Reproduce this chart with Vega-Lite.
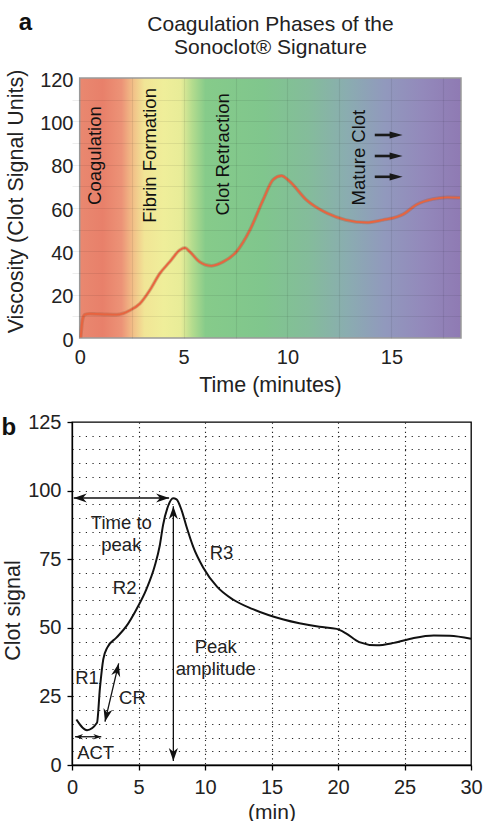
{
  "$schema": "https://vega.github.io/schema/vega-lite/v6.json",
  "background": "white",
  "padding": {"left": 0, "top": 10, "right": 5, "bottom": 1},
  "config": {
    "font": "Liberation Sans",
    "view": {"stroke": null},
    "text": {"font": "Liberation Sans"}
  },
  "bounds": "flush",
  "spacing": 84,
  "title": {"text": "a", "anchor": "start", "frame": "bounds", "fontSize": 24, "fontWeight": "bold", "color": "#111", "offset": -21, "dx": 18},
  "vconcat": [
    {
      "width": 389,
      "height": 260,
      "title": {"text": ["Coagulation Phases of the", "Sonoclot® Signature"], "fontSize": 21, "fontWeight": "normal", "lineHeight": 23.5, "anchor": "middle", "frame": "group", "offset": 11, "dx": 4, "color": "#222"},
      "view": {"stroke": null},
      "layer": [
        {
          "data": {"values": [{}]},
          "mark": {
            "type": "rect",
            "fill": {
              "gradient": "linear", "x1": 0, "y1": 0, "x2": 1, "y2": 0,
              "stops": [
                {"offset": 0, "color": "#e98870"},
                {"offset": 0.06, "color": "#e8806a"},
                {"offset": 0.11, "color": "#ec9377"},
                {"offset": 0.14, "color": "#f2c088"},
                {"offset": 0.17, "color": "#f1e596"},
                {"offset": 0.22, "color": "#efee9a"},
                {"offset": 0.265, "color": "#e8ec98"},
                {"offset": 0.295, "color": "#b4dc8e"},
                {"offset": 0.33, "color": "#86cb8a"},
                {"offset": 0.48, "color": "#80c68d"},
                {"offset": 0.6, "color": "#84bc9b"},
                {"offset": 0.7, "color": "#8aadb0"},
                {"offset": 0.8, "color": "#9199bd"},
                {"offset": 0.9, "color": "#9389bb"},
                {"offset": 1, "color": "#8f7ab3"}
              ]
            },
            "stroke": "#9a9a9a",
            "strokeWidth": 1.5
          },
          "encoding": {
            "x": {"datum": 0, "type": "quantitative",
              "scale": {"domain": [-0.37, 18.35], "nice": false, "zero": false},
              "axis": {
                "values": [0, 2.5, 5, 7.5, 10, 12.5, 15, 17.5],
                "tickCount": 100,
                "format": "d",
                "labelExpr": "datum.value % 5 === 0 ? datum.label : ''",
                "labelOverlap": false, "labelFlush": false,
                "labelFontSize": 20, "labelColor": "#222", "labelPadding": 9,
                "ticks": false, "tickSize": 0, "domain": false,
                "grid": true, "gridColor": "#000", "gridOpacity": {"condition": {"test": "datum.value === 0", "value": 0}, "value": 0.07}, "gridWidth": 1.2,
                "zindex": 1,
                "title": "Time (minutes)", "titleFontSize": 21.5, "titleFontWeight": "normal", "titleColor": "#222", "titlePadding": 7, "titleX": 198
              }
            },
            "x2": {"datum": 18.35},
            "y": {"datum": 0, "type": "quantitative",
              "scale": {"domain": [0, 120], "nice": false},
              "axis": {
                "values": [0, 10, 20, 30, 40, 50, 60, 70, 80, 90, 100, 110, 120],
                "tickCount": 100,
                "format": "d",
                "labelExpr": "datum.value % 20 === 0 ? datum.label : ''",
                "labelOverlap": false,
                "labelFontSize": 20, "labelColor": "#222", "labelPadding": -1, "labelOffset": 2,
                "ticks": false, "tickSize": 0, "domain": false,
                "grid": true, "gridColor": "#000", "gridOpacity": {"condition": {"test": "datum.value === 0 || datum.value === 120", "value": 0}, "value": 0.07}, "gridWidth": 1.2,
                "zindex": 1,
                "title": "Viscosity (Clot Signal Units)", "titleFontSize": 21.5, "titleFontWeight": "normal", "titleColor": "#222", "titlePadding": 12, "titleY": 123
              }
            },
            "y2": {"datum": 120}
          }
        },
        {
          "data": {"name": "viscosity"},
          "mark": {"type": "line", "interpolate": "monotone", "color": "#a85a38", "strokeWidth": 3.6, "opacity": 0.35},
          "encoding": {
            "x": {"field": "t", "type": "quantitative", "scale": {"domain": [-0.37, 18.35], "nice": false, "zero": false}},
            "y": {"field": "v", "type": "quantitative", "scale": {"domain": [0, 120], "nice": false}}
          }
        },
        {
          "data": {"name": "viscosity"},
          "mark": {"type": "line", "interpolate": "monotone", "color": "#e8643f", "strokeWidth": 1.9},
          "encoding": {
            "x": {"field": "t", "type": "quantitative", "scale": {"domain": [-0.37, 18.35], "nice": false, "zero": false}},
            "y": {"field": "v", "type": "quantitative", "scale": {"domain": [0, 120], "nice": false}}
          }
        },
        {
          "data": {"values": [
            {"phase": "Coagulation", "t": 0.72, "v": 61.4},
            {"phase": "Fibrin Formation", "t": 3.37, "v": 53.2},
            {"phase": "Clot Retraction", "t": 6.9, "v": 56.5},
            {"phase": "Mature Clot", "t": 13.44, "v": 61.2}
          ]},
          "mark": {"type": "text", "angle": 270, "align": "left", "baseline": "middle", "fontSize": 18.5, "color": "#111"},
          "encoding": {
            "x": {"field": "t", "type": "quantitative", "scale": {"domain": [-0.37, 18.35], "nice": false, "zero": false}},
            "y": {"field": "v", "type": "quantitative", "scale": {"domain": [0, 120], "nice": false}},
            "text": {"field": "phase"}
          }
        },
        {
          "data": {"name": "phaseArrows"},
          "mark": {"type": "rule", "color": "#1a1a1a", "strokeWidth": 2.6},
          "encoding": {
            "x": {"field": "t0", "type": "quantitative", "scale": {"domain": [-0.37, 18.35], "nice": false, "zero": false}},
            "x2": {"field": "t1"},
            "y": {"field": "v", "type": "quantitative", "scale": {"domain": [0, 120], "nice": false}}
          }
        },
        {
          "data": {"name": "phaseArrows"},
          "mark": {"type": "point", "shape": "M0,0L-2,-0.55L-2,0.55Z", "filled": true, "color": "#1a1a1a", "opacity": 1, "size": 169, "angle": 0},
          "encoding": {
            "x": {"field": "tip", "type": "quantitative", "scale": {"domain": [-0.37, 18.35], "nice": false, "zero": false}},
            "y": {"field": "v", "type": "quantitative", "scale": {"domain": [0, 120], "nice": false}}
          }
        }
      ]
    },
    {
      "width": 399,
      "height": 343,
      "view": {"stroke": "#000", "strokeWidth": 1.3},
      "layer": [
        {
          "data": {"name": "clot"},
          "mark": {"type": "line", "interpolate": "monotone", "color": "#111", "strokeWidth": 2},
          "encoding": {
            "x": {"field": "t", "type": "quantitative",
              "scale": {"domain": [0, 30], "nice": false},
              "axis": {
                "values": [0, 5, 10, 15, 20, 25, 30],
                "tickCount": 100,
                "format": "d",
                "labelOverlap": false, "labelFlush": false,
                "labelFontSize": 20, "labelColor": "#222", "labelPadding": 7,
                "tickSize": 5, "tickColor": "#000", "tickWidth": 1.3,
                "domainColor": "#000", "domainWidth": 1.3,
                "grid": true, "gridColor": "#222", "gridWidth": 1.1, "gridDash": [1.2, 3.4],
                "gridOpacity": {"condition": {"test": "datum.value === 0 || datum.value === 30", "value": 0}, "value": 1},
                "title": "(min)", "titleFontSize": 21, "titleFontWeight": "normal", "titleColor": "#222", "titlePadding": 4
              }
            },
            "y": {"field": "s", "type": "quantitative",
              "scale": {"domain": [0, 125], "nice": false},
              "axis": {
                "values": [0, 5, 10, 15, 20, 25, 30, 35, 40, 45, 50, 55, 60, 65, 70, 75, 80, 85, 90, 95, 100, 105, 110, 115, 120, 125],
                "tickCount": 100,
                "format": "d",
                "labelExpr": "datum.value % 25 === 0 ? datum.label : ''",
                "labelOverlap": false,
                "labelFontSize": 20, "labelColor": "#222", "labelPadding": 6,
                "tickSize": 5, "tickColor": "#000", "tickWidth": 1.3,
                "tickOpacity": {"condition": {"test": "datum.value % 25 === 0", "value": 1}, "value": 0},
                "domainColor": "#000", "domainWidth": 1.3,
                "grid": true, "gridColor": "#222", "gridWidth": 1.1, "gridDash": [1.2, 5.45],
                "gridOpacity": {"condition": {"test": "datum.value === 0 || datum.value === 125", "value": 0}, "value": 1},
                "title": "Clot signal", "titleFontSize": 21.5, "titleFontWeight": "normal", "titleColor": "#222", "titlePadding": 3, "titleY": 188
              }
            }
          }
        },
        {
          "data": {"name": "arrows"},
          "mark": {"type": "rule", "color": "#111", "strokeWidth": 1.3},
          "encoding": {
            "x": {"field": "x", "type": "quantitative", "scale": {"domain": [0, 30], "nice": false}},
            "y": {"field": "y", "type": "quantitative", "scale": {"domain": [0, 125], "nice": false}},
            "x2": {"field": "x2"},
            "y2": {"field": "y2"}
          }
        },
        {
          "data": {"name": "arrowheads"},
          "transform": [{"filter": "datum.arrow !== 'ACT'"}],
          "mark": {"type": "point", "shape": "M0,0L-2,-0.7L-1.4,0L-2,0.7Z", "filled": true, "color": "#111", "opacity": 1, "size": 169},
          "encoding": {
            "x": {"field": "x", "type": "quantitative", "scale": {"domain": [0, 30], "nice": false}},
            "y": {"field": "y", "type": "quantitative", "scale": {"domain": [0, 125], "nice": false}},
            "angle": {"field": "angle", "type": "quantitative", "scale": null}
          }
        },
        {
          "data": {"name": "arrowheads"},
          "transform": [{"filter": "datum.arrow === 'ACT'"}],
          "mark": {"type": "point", "shape": "M0,0L-2,-0.7L-1.4,0L-2,0.7Z", "filled": true, "color": "#111", "opacity": 1, "size": 64},
          "encoding": {
            "x": {"field": "x", "type": "quantitative", "scale": {"domain": [0, 30], "nice": false}},
            "y": {"field": "y", "type": "quantitative", "scale": {"domain": [0, 125], "nice": false}},
            "angle": {"field": "angle", "type": "quantitative", "scale": null}
          }
        },
        {
          "data": {"values": [
            {"label": "Time to", "x": 3.71, "y": 88.2},
            {"label": "peak", "x": 3.71, "y": 80.0},
            {"label": "R2", "x": 3.96, "y": 64.6},
            {"label": "R3", "x": 11.24, "y": 77.3},
            {"label": "Peak", "x": 10.81, "y": 43.0},
            {"label": "amplitude", "x": 10.81, "y": 35.1},
            {"label": "R1", "x": 1.13, "y": 31.8},
            {"label": "CR", "x": 4.54, "y": 24.5},
            {"label": "ACT", "x": 1.78, "y": 4.5}
          ]},
          "mark": {"type": "text", "align": "center", "baseline": "middle", "fontSize": 18.5, "color": "#222"},
          "encoding": {
            "x": {"field": "x", "type": "quantitative", "scale": {"domain": [0, 30], "nice": false}},
            "y": {"field": "y", "type": "quantitative", "scale": {"domain": [0, 125], "nice": false}},
            "text": {"field": "label"}
          }
        },
        {
          "data": {"values": [{"label": "b", "x": -4.75, "y": 120.4}]},
          "mark": {"type": "text", "align": "center", "baseline": "alphabetic", "fontSize": 24, "fontWeight": "bold", "color": "#111"},
          "encoding": {
            "x": {"field": "x", "type": "quantitative", "scale": {"domain": [0, 30], "nice": false}},
            "y": {"field": "y", "type": "quantitative", "scale": {"domain": [0, 125], "nice": false}},
            "text": {"field": "label"}
          }
        }
      ]
    }
  ],
  "datasets": {
    "viscosity": [
      {"t": 0.05, "v": 0.3}, {"t": 0.13, "v": 8}, {"t": 0.24, "v": 10.8}, {"t": 0.5, "v": 11.2},
      {"t": 0.8, "v": 11.1}, {"t": 1.3, "v": 10.9}, {"t": 1.77, "v": 10.8}, {"t": 2.1, "v": 11.4},
      {"t": 2.4, "v": 12.7}, {"t": 2.89, "v": 15.8}, {"t": 3.37, "v": 22}, {"t": 3.85, "v": 29.7},
      {"t": 4.33, "v": 35.1}, {"t": 4.82, "v": 40.6}, {"t": 5.07, "v": 41.6}, {"t": 5.3, "v": 39.8},
      {"t": 5.78, "v": 35.1}, {"t": 6.34, "v": 33.3}, {"t": 6.9, "v": 35.1}, {"t": 7.54, "v": 39.8},
      {"t": 8.19, "v": 49.8}, {"t": 8.83, "v": 63.8}, {"t": 9.31, "v": 73.1}, {"t": 9.71, "v": 74.9},
      {"t": 10.1, "v": 72.3}, {"t": 10.9, "v": 63.8}, {"t": 11.9, "v": 57.6}, {"t": 12.8, "v": 54.5},
      {"t": 13.8, "v": 53.3}, {"t": 14.6, "v": 54.5}, {"t": 15.3, "v": 56}, {"t": 15.6, "v": 57.3},
      {"t": 16.2, "v": 61.5}, {"t": 17, "v": 64.1}, {"t": 17.7, "v": 64.9}, {"t": 18.3, "v": 64.7}
    ],
    "phaseArrows": [
      {"v": 93.7, "t0": 14.2, "t1": 14.95, "tip": 15.54},
      {"v": 84.0, "t0": 14.2, "t1": 14.95, "tip": 15.54},
      {"v": 74.4, "t0": 14.2, "t1": 14.95, "tip": 15.54}
    ],
    "clot": [
      {"t": 0.33, "s": 16.6}, {"t": 1.13, "s": 12.7}, {"t": 1.88, "s": 15.4}, {"t": 2.1, "s": 28},
      {"t": 2.35, "s": 38.5}, {"t": 2.65, "s": 42.8}, {"t": 3.34, "s": 46.4}, {"t": 4.09, "s": 50.6},
      {"t": 4.84, "s": 56.7}, {"t": 5.59, "s": 64}, {"t": 6.22, "s": 72.5}, {"t": 6.6, "s": 80},
      {"t": 6.85, "s": 87.5}, {"t": 7.22, "s": 94.3}, {"t": 7.6, "s": 97.2}, {"t": 7.86, "s": 96.8},
      {"t": 8.23, "s": 93}, {"t": 8.6, "s": 87}, {"t": 9.1, "s": 79.7}, {"t": 9.86, "s": 72},
      {"t": 10.9, "s": 65}, {"t": 12.1, "s": 60.3}, {"t": 13.6, "s": 56.8}, {"t": 15.9, "s": 53},
      {"t": 18.6, "s": 50.4}, {"t": 19.9, "s": 49.6}, {"t": 20.6, "s": 48}, {"t": 21.6, "s": 44.8},
      {"t": 22.9, "s": 43.6}, {"t": 24.2, "s": 44.5}, {"t": 25.7, "s": 46.3}, {"t": 27.2, "s": 47.2},
      {"t": 28.4, "s": 47.1}, {"t": 30, "s": 46}
    ],
    "arrows": [
      {"arrow": "time", "x": 0.13, "y": 97.3, "x2": 7.3, "y2": 97.3},
      {"arrow": "amp", "x": 7.62, "y": 1.5, "x2": 7.62, "y2": 94.3},
      {"arrow": "CR", "x": 2.48, "y": 15.8, "x2": 3.51, "y2": 37},
      {"arrow": "ACT", "x": 0.23, "y": 10.3, "x2": 2.2, "y2": 10.3}
    ],
    "arrowheads": [
      {"arrow": "time", "x": 0.13, "y": 97.3, "angle": 180},
      {"arrow": "time", "x": 7.3, "y": 97.3, "angle": 0},
      {"arrow": "amp", "x": 7.62, "y": 1.5, "angle": 90},
      {"arrow": "amp", "x": 7.62, "y": 94.3, "angle": 270},
      {"arrow": "CR", "x": 2.48, "y": 15.8, "angle": 103.2},
      {"arrow": "CR", "x": 3.51, "y": 37, "angle": 283.2},
      {"arrow": "ACT", "x": 0.23, "y": 10.3, "angle": 180},
      {"arrow": "ACT", "x": 2.2, "y": 10.3, "angle": 0}
    ]
  }
}
